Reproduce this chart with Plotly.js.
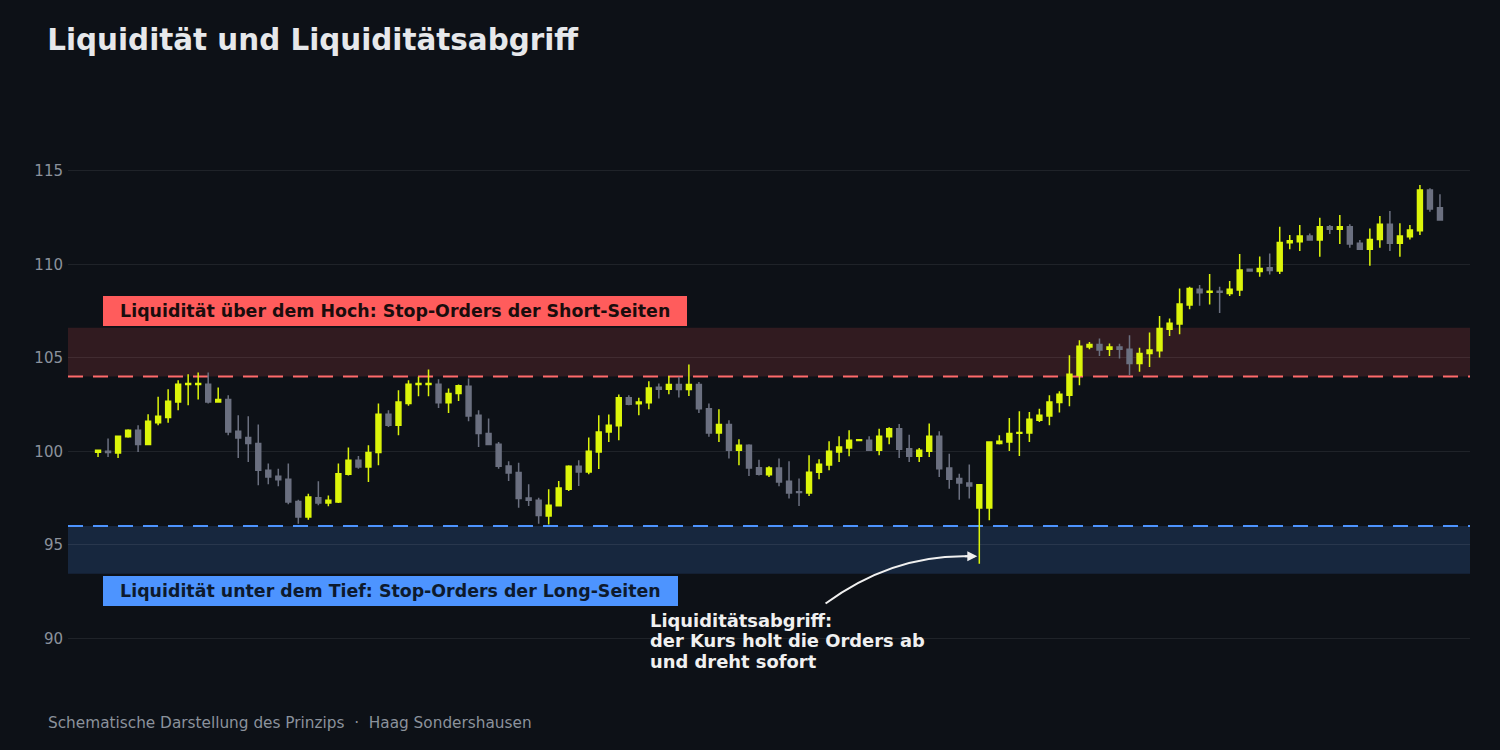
<!DOCTYPE html>
<html>
<head>
<meta charset="utf-8">
<script src="https://cdn.plot.ly/plotly-3.0.1.min.js"></script>
<style>html,body{margin:0;padding:0;background:#0d1117;}#chart{width:1500px;height:750px;}</style>
</head>
<body>
<div id="chart"></div>
<script>
const openVals = [99.95,100.00,99.91,100.77,101.12,100.36,101.53,101.80,102.64,103.57,103.57,103.59,102.64,102.77,101.07,100.73,100.41,98.98,98.66,98.50,97.32,96.48,97.52,97.23,97.29,98.77,99.52,99.16,99.93,101.98,101.39,102.55,103.57,103.57,103.59,102.59,103.09,103.48,101.93,100.95,100.38,99.21,98.86,97.50,97.38,96.54,97.09,97.97,99.20,98.89,99.96,101.03,101.36,102.86,102.54,102.59,103.43,103.32,103.57,103.30,103.57,102.28,100.98,101.43,100.05,100.32,99.12,98.75,99.11,98.39,97.84,97.77,98.88,99.27,99.96,100.18,100.57,100.59,100.05,100.77,101.21,100.14,99.73,100.00,100.80,99.11,98.54,98.30,96.96,96.96,100.41,100.50,100.96,100.98,101.66,101.89,102.61,103.00,104.07,105.58,105.71,105.46,105.58,105.46,104.69,105.23,105.37,106.53,106.80,107.82,108.66,108.51,108.56,108.44,108.62,109.73,109.62,109.81,109.64,111.15,111.21,111.51,111.30,112.01,111.87,112.01,111.12,110.80,111.33,112.14,111.12,111.47,111.80,113.97,113.03];
const highVals = [100.05,100.68,100.82,101.18,101.39,101.98,102.91,103.32,103.80,104.12,104.21,104.21,103.41,103.00,101.93,101.87,101.43,99.34,99.07,99.34,97.41,97.73,98.39,97.64,99.34,100.20,99.75,100.32,102.55,102.19,103.27,103.80,103.98,104.37,103.85,103.36,103.57,103.89,102.19,101.75,100.50,99.46,99.39,98.23,97.52,97.97,98.41,99.25,99.52,100.73,101.93,101.96,103.03,103.00,102.86,103.75,103.62,104.03,103.98,104.64,103.71,102.55,102.25,101.66,100.64,100.38,99.55,99.20,99.61,99.46,98.54,99.79,99.57,100.54,100.80,101.12,100.65,100.80,101.21,101.28,101.46,100.89,100.18,101.48,101.07,99.87,98.80,99.29,98.23,100.53,100.86,101.78,102.14,102.10,102.28,103.00,103.21,105.14,105.94,105.85,106.03,105.77,105.75,106.21,105.53,106.35,107.23,107.10,108.71,108.80,108.89,109.48,108.80,109.10,110.55,109.78,110.41,110.58,112.01,111.56,112.10,111.65,112.49,112.10,112.63,112.14,111.30,111.92,112.58,112.85,112.19,112.10,114.24,114.06,113.74];
const lowVals = [99.70,99.70,99.64,100.72,99.96,100.33,101.39,101.52,102.19,102.46,102.77,102.55,102.59,100.86,99.64,99.43,98.18,98.23,98.13,97.16,96.13,96.34,97.11,97.06,97.23,98.71,99.07,98.36,99.25,101.30,100.86,102.43,102.94,102.94,102.32,102.05,102.69,101.61,100.23,100.34,99.07,98.41,96.98,97.07,96.13,96.09,97.05,97.88,98.14,98.77,99.05,100.50,100.59,102.46,101.93,102.25,102.82,103.05,102.87,102.96,102.05,100.77,100.50,99.61,99.25,98.68,98.71,98.62,98.13,97.47,97.07,97.61,98.50,98.98,99.43,99.73,100.54,100.04,99.79,100.38,99.64,99.43,99.43,99.70,98.62,98.00,97.41,97.47,93.99,96.31,100.36,100.02,99.75,100.50,101.57,101.39,102.07,102.41,103.53,105.46,105.09,105.09,104.96,104.07,104.25,104.51,105.02,106.16,106.26,107.60,107.78,107.85,107.40,108.31,108.31,109.60,109.33,109.46,109.48,110.81,110.71,111.28,110.40,111.62,111.08,110.89,110.76,109.92,110.89,110.71,110.40,111.33,111.56,112.81,112.33];
const closeVals = [100.05,99.93,100.80,101.12,100.36,101.61,101.87,102.68,103.59,103.62,103.62,102.64,102.77,101.03,100.71,100.41,98.98,98.62,98.48,97.29,96.48,97.55,97.23,97.38,98.80,99.52,99.16,99.93,101.98,101.39,102.64,103.59,103.62,103.62,102.59,103.09,103.50,101.89,100.95,100.36,99.20,98.84,97.47,97.38,96.57,97.11,98.04,99.20,98.89,100.00,101.03,101.39,102.86,102.52,102.64,103.39,103.32,103.57,103.30,103.57,102.28,100.98,101.43,100.05,100.32,99.11,98.77,99.11,98.36,97.77,97.80,98.88,99.30,100.00,100.23,100.59,100.62,100.05,100.80,101.21,100.11,99.73,100.05,100.80,99.07,98.50,98.30,98.14,98.21,100.50,100.54,100.95,101.00,101.71,101.93,102.64,103.05,104.12,105.62,105.71,105.41,105.58,105.46,104.69,105.23,105.41,106.57,106.84,107.87,108.71,108.48,108.56,108.51,108.66,109.69,109.64,109.78,109.67,111.17,111.26,111.51,111.30,112.01,111.88,112.01,111.08,110.80,111.33,112.14,111.12,111.51,111.83,113.97,112.96,112.37];
const xIdx = openVals.map((_, i) => i);

const highLiquidity = 104;
const lowLiquidity = 96;
const yTicks = [90, 95, 100, 105, 110, 115];

const titleText = "Liquidität und Liquiditätsabgriff";
const highLabel = "Liquidität über dem Hoch: Stop-Orders der Short-Seiten";
const lowLabel = "Liquidität unter dem Tief: Stop-Orders der Long-Seiten";
const sweepLines = ["Liquiditätsabgriff:", "der Kurs holt die Orders ab", "und dreht sofort"];
const sweepLineY = [90.95, 89.86, 88.76];
const footerText = "Schematische Darstellung des Prinzips  ·  Haag Sondershausen";
const sweepIndex = 88;

const UP = "#dcf50a";
const DOWN = "#6b7080";
const BG = "#0d1117";
const FONT = "DejaVu Sans, sans-serif";
const PAD = "&nbsp;&nbsp;";

const trace = {
  type: "candlestick",
  x: xIdx, open: openVals, high: highVals, low: lowVals, close: closeVals,
  increasing: {line: {color: UP, width: 1.5}, fillcolor: UP},
  decreasing: {line: {color: DOWN, width: 1.5}, fillcolor: DOWN},
  whiskerwidth: 0,
  hoverinfo: "skip",
  showlegend: false
};

const sweepAnnotations = sweepLines.map((t, i) => ({
  xref: "x", yref: "y", x: 54.9, y: sweepLineY[i], xanchor: "left", yanchor: "middle", align: "left",
  text: "<b>" + t + "</b>", showarrow: false, font: {family: FONT, size: 17.9, color: "#f0f0f0"}
}));

const layout = {
  width: 1500, height: 750,
  paper_bgcolor: BG, plot_bgcolor: BG,
  margin: {l: 68, r: 30, t: 96, b: 65},
  font: {family: FONT, color: "#8b929c"},
  title: {text: titleText, x: 0.0315, xanchor: "left", xref: "container", y: 0.947, yanchor: "middle", yref: "container",
          font: {family: FONT, size: 29.4, color: "#e6e8eb", weight: "bold"}},
  xaxis: {range: [-3, 137], showgrid: false, zeroline: false, showticklabels: false, ticks: "", showline: false, rangeslider: {visible: false}, fixedrange: true},
  yaxis: {range: [87.5, 119], tickvals: yTicks, ticktext: yTicks.map(String), showgrid: true, gridcolor: "rgba(255,255,255,0.08)", gridwidth: 1,
          zeroline: false, showline: false, ticks: "", ticklabelstandoff: 4, tickfont: {size: 15, color: "#8b929c", family: FONT}, fixedrange: true},
  shapes: [
    {type: "rect", xref: "paper", x0: 0, x1: 1, yref: "y", y0: highLiquidity, y1: 106.6, fillcolor: "rgba(255,90,90,0.15)", line: {width: 0}, layer: "below"},
    {type: "rect", xref: "paper", x0: 0, x1: 1, yref: "y", y0: 93.45, y1: lowLiquidity, fillcolor: "rgba(77,148,255,0.17)", line: {width: 0}, layer: "below"},
    {type: "line", xref: "paper", x0: 0, x1: 1, yref: "y", y0: highLiquidity, y1: highLiquidity, line: {color: "#ff6b6b", width: 2, dash: "15px,10px"}, layer: "below"},
    {type: "line", xref: "paper", x0: 0, x1: 1, yref: "y", y0: lowLiquidity, y1: lowLiquidity, line: {color: "#4d94ff", width: 2, dash: "15px,10px"}, layer: "below"},
    {type: "path", xref: "x", yref: "y", path: "M 72.65,91.86 Q 79.5,94.55 87.3,94.38", line: {color: "#f0f0f0", width: 2}, layer: "above"}
  ],
  annotations: [
    {xref: "x", yref: "y", x: 0.5, y: 107.5, xanchor: "left", yanchor: "middle", text: "<b>" + PAD + highLabel + PAD + "</b>", showarrow: false,
     font: {family: FONT, size: 17.4, color: "#1a0d0d"}, bgcolor: "#ff5c5c", bordercolor: "#ff5c5c", borderpad: 4},
    {xref: "x", yref: "y", x: 0.5, y: 92.55, xanchor: "left", yanchor: "middle", text: "<b>" + PAD + lowLabel + PAD + "</b>", showarrow: false,
     font: {family: FONT, size: 17.4, color: "#0d1a2d"}, bgcolor: "#4d94ff", bordercolor: "#4d94ff", borderpad: 4},
    ...sweepAnnotations,
    {xref: "x", yref: "y", x: sweepIndex - 0.2, y: 94.38, ax: -14, ay: 0, axref: "pixel", ayref: "pixel", text: "", showarrow: true,
     arrowhead: 2, arrowsize: 1, arrowwidth: 2, arrowcolor: "#f0f0f0"},
    {xref: "paper", yref: "paper", x: -0.0157, y: -0.064, xanchor: "left", yanchor: "middle", text: footerText, showarrow: false,
     font: {family: FONT, size: 15.3, color: "#8b929c"}}
  ],
  hovermode: false
};

Plotly.newPlot("chart", [trace], layout, {staticPlot: true, displayModeBar: false});
</script>
</body>
</html>
